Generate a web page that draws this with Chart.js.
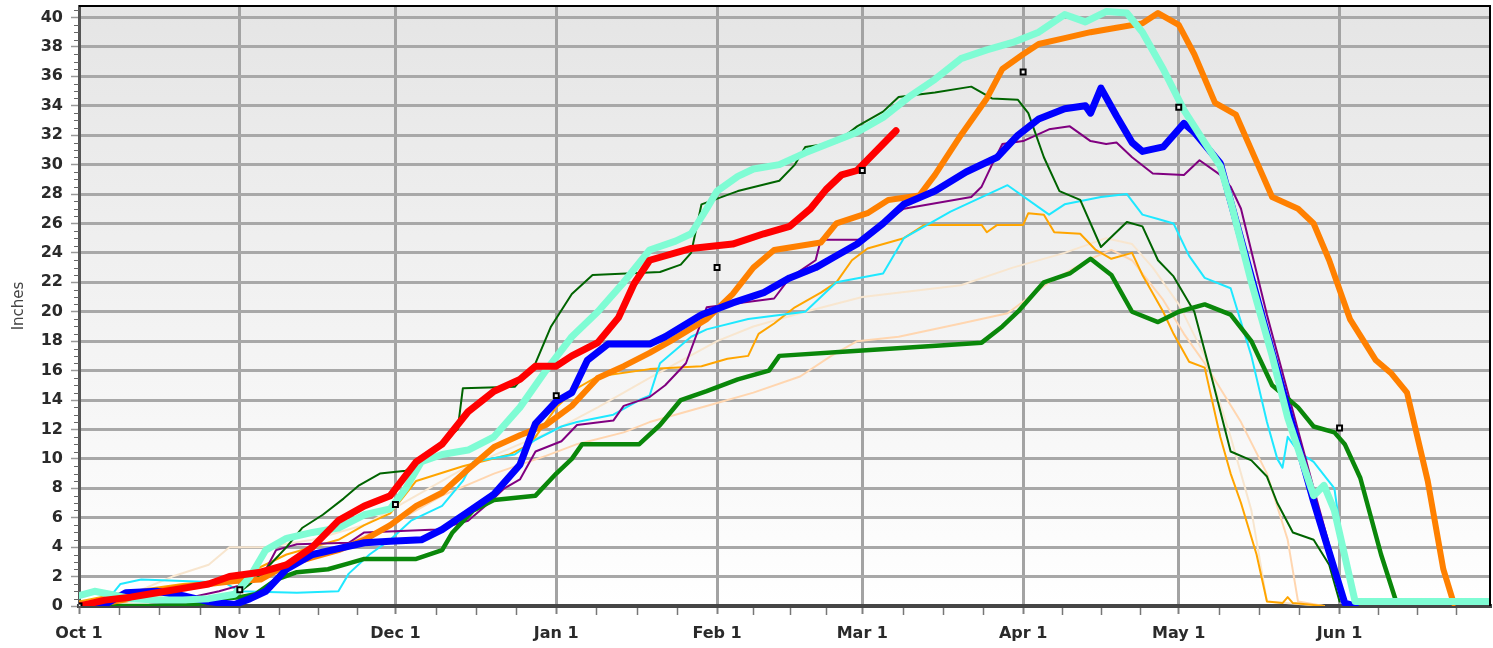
<!DOCTYPE html>
<html><head><meta charset="utf-8">
<script src="https://cdn.jsdelivr.net/npm/chart.js@4.4.1/dist/chart.umd.min.js"></script>
<style>html,body{margin:0;padding:0;background:#fff;overflow:hidden}#wrap{width:1493px;height:648px;position:relative}</style>
</head><body><div id="wrap"><canvas id="c" width="1493" height="648"></canvas></div>
<script>
// Day 0 = Oct 1
const monthDays = [0,31,61,92,123,151,182,212,243];
const monthLabels = ['Oct 1','Nov 1','Dec 1','Jan 1','Feb 1','Mar 1','Apr 1','May 1','Jun 1'];
const axisEndDay = 273; // Jul 1
const yTicks = [0,2,4,6,8,10,12,14,16,18,20,22,24,26,28,30,32,34,36,38,40];
const markerValues = [0,1.1,6.9,14.3,23.0,29.6,36.3,33.9,12.1];

const red = [[0,0],[5,0.4],[10,0.6],[15,0.9],[20,1.2],[25,1.5],[29,2.0],[35,2.3],[40,2.8],[45,4.0],[50,5.8],[55,6.8],[60,7.5],[65,9.8],[70,11.0],[75,13.2],[80,14.6],[85,15.4],[88,16.3],[92,16.3],[95,17.0],[100,17.9],[104,19.6],[107,21.9],[110,23.5],[118,24.3],[126,24.6],[132,25.3],[137,25.8],[141,27.0],[144,28.3],[147,29.3],[150,29.6],[155,31.4],[157.5,32.3]];
const blue = [[0,0],[5,0.1],[9,0.9],[15,1.0],[20,0.7],[25,0.3],[30,0.1],[33,0.5],[36,1.0],[40,2.5],[45,3.5],[50,3.9],[55,4.3],[60,4.4],[66,4.5],[70,5.2],[75,6.4],[80,7.6],[85,9.6],[88,12.4],[92,13.9],[95,14.5],[98,16.7],[102,17.8],[110,17.8],[113,18.3],[120,19.8],[126,20.6],[132,21.3],[137,22.3],[142,23.0],[146,23.8],[150,24.6],[155,26.0],[159,27.3],[165,28.2],[171,29.5],[177,30.5],[181,32.0],[185,33.1],[190,33.8],[194,34.0],[195,33.5],[197,35.2],[200,33.3],[203,31.5],[205,30.9],[209,31.2],[213,32.8],[215,32.2],[220,30.1],[222,27.5],[229,18.5],[238,7.1],[244,0.2],[246,0]];
const orangeThick = [[0,0.1],[5,0.2],[10,0.5],[15,1.0],[20,1.3],[25,1.5],[30,1.7],[35,1.8],[40,2.8],[45,3.3],[50,3.8],[55,4.5],[60,5.5],[65,6.8],[70,7.7],[75,9.3],[80,10.8],[85,11.6],[90,12.3],[95,13.6],[100,15.5],[105,16.3],[110,17.2],[114,18.0],[121,19.5],[126,21.2],[130,23.0],[134,24.2],[143,24.7],[146,26.0],[152,26.7],[156,27.6],[162,27.9],[165,29.3],[170,32.0],[175,34.5],[178,36.5],[182,37.5],[185,38.2],[190,38.6],[195,39.0],[200,39.3],[205,39.6],[208,40.3],[212,39.5],[215,37.5],[219,34.2],[223,33.4],[226,31.0],[230,27.8],[235,27.0],[238,26.0],[241,23.5],[245,19.5],[250,16.7],[253,15.8],[256,14.5],[260,8.5],[263,2.5],[265,0.2]];
const aquamarine = [[0,0.7],[3,1.0],[6,0.8],[10,0.5],[15,0.4],[20,0.4],[25,0.5],[30,0.8],[33,2.0],[36,3.8],[40,4.6],[45,5.0],[50,5.3],[55,6.2],[60,6.6],[63,8.0],[66,9.8],[70,10.3],[75,10.6],[80,11.5],[85,13.5],[90,16.0],[95,18.3],[100,20.0],[105,22.0],[110,24.2],[115,24.8],[118,25.3],[121,27.0],[123,28.2],[127,29.2],[130,29.7],[135,30.0],[140,30.8],[145,31.5],[150,32.2],[155,33.2],[160,34.6],[165,35.8],[170,37.2],[175,37.8],[180,38.3],[185,39.0],[190,40.2],[194,39.7],[198,40.4],[202,40.3],[205,39.0],[209,36.5],[213,33.7],[217,31.5],[220,29.9],[222,27.5],[226,22.0],[230,17.0],[233,12.8],[238,7.5],[240,8.2],[242,6.5],[246,0.3],[272,0.3]];
const green = [[0,0],[20,0],[24,0.2],[27,0.5],[31,0.6],[34,0.8],[38,1.8],[42,2.3],[48,2.5],[52,2.9],[55,3.2],[65,3.2],[70,3.8],[72,5.0],[76,6.5],[80,7.2],[88,7.5],[92,9.0],[95,10.0],[97,11.0],[108,11.0],[112,12.3],[116,14.0],[121,14.6],[127,15.4],[133,16.0],[135,17.0],[148,17.3],[166,17.7],[174,17.9],[178,19.0],[181,20.0],[186,22.0],[191,22.6],[195,23.6],[199,22.5],[203,20.0],[208,19.3],[212,20.0],[217,20.5],[222,19.8],[226,18.0],[230,15.0],[235,13.5],[238,12.2],[242,11.8],[244,11.0],[247,8.7],[251,3.5],[254,0.2]];
const darkGreen = [[0,0],[10,0],[20,0.2],[25,0.4],[30,0.7],[33,1.5],[36,2.5],[40,4.0],[43,5.3],[47,6.2],[51,7.3],[54,8.2],[58,9.0],[63,9.2],[66,10.0],[70,11.2],[73,12.0],[74,14.8],[84,14.9],[88,16.5],[91,19.0],[95,21.2],[99,22.5],[112,22.7],[116,23.2],[118,24.0],[120,27.3],[127,28.2],[135,28.9],[138,30.0],[140,31.2],[146,31.5],[150,32.6],[155,33.6],[158,34.6],[165,34.9],[172,35.3],[176,34.5],[181,34.4],[183,33.5],[186,30.5],[189,28.2],[193,27.6],[197,24.4],[202,26.1],[205,25.8],[208,23.5],[211,22.4],[215,20.0],[218,16.0],[222,10.5],[226,9.9],[229,8.8],[231,7.0],[234,5.0],[238,4.5],[241,2.8],[243,0.3]];
const purple = [[0,0],[10,0],[20,0.2],[23,0.7],[27,1.0],[31,1.4],[35,1.8],[38,3.8],[42,4.2],[52,4.3],[55,5.0],[69,5.2],[75,5.8],[79,7.0],[82,8.0],[85,8.6],[88,10.5],[93,11.2],[96,12.3],[103,12.6],[105,13.6],[110,14.2],[113,15.0],[117,16.5],[121,20.3],[134,20.9],[137,22.3],[142,23.5],[143,24.9],[151,24.9],[155,26.0],[159,27.0],[172,27.8],[174,28.5],[176,30.0],[178,31.4],[182,31.6],[187,32.4],[191,32.6],[195,31.6],[198,31.4],[200,31.5],[203,30.5],[207,29.4],[213,29.3],[216,30.3],[220,29.3],[222,28.5],[224,27.0],[229,19.8],[238,8.0],[244,0.3]];
const cyan = [[0,0.1],[5,0.2],[8,1.5],[12,1.8],[20,1.7],[28,1.6],[31,1.0],[42,0.9],[50,1.0],[52,2.2],[56,3.5],[60,4.5],[64,5.8],[70,6.8],[74,8.5],[76,9.8],[84,10.3],[88,11.3],[93,12.2],[96,12.5],[103,13.0],[108,14.0],[110,14.3],[112,16.5],[118,18.3],[121,18.8],[129,19.5],[140,20.0],[146,22.0],[155,22.6],[159,25.0],[168,26.8],[179,28.6],[187,26.6],[190,27.3],[197,27.8],[202,28.0],[205,26.6],[208,26.3],[211,26.0],[214,23.8],[217,22.3],[222,21.6],[226,17.0],[229,12.5],[231,10.0],[232,9.4],[233,11.5],[235,10.5],[238,9.8],[242,8.0],[244,3.0],[246,0.2]];
const orangeThin = [[0,0.3],[10,1.0],[20,1.5],[30,1.8],[40,3.5],[50,4.5],[55,5.5],[60,6.3],[65,8.5],[74,9.5],[83,10.3],[87,11.0],[92,13.5],[96,14.8],[100,15.6],[110,16.1],[120,16.3],[125,16.8],[129,17.0],[131,18.5],[134,19.2],[138,20.3],[143,21.3],[146,22.0],[149,23.5],[152,24.3],[159,25.0],[163,25.9],[174,25.9],[175,25.4],[177,25.9],[182,25.9],[183,26.7],[186,26.6],[188,25.4],[193,25.3],[196,24.2],[199,23.6],[203,24.0],[205,22.5],[209,20.0],[211,18.5],[214,16.6],[217,16.2],[220,11.5],[222,9.0],[224,7.0],[227,3.5],[229,0.3],[232,0.2],[233,0.6],[234,0.2],[240,0]];
const peach = [[0,0],[10,0.3],[20,1.0],[30,1.8],[40,3.0],[50,4.0],[60,5.5],[70,7.5],[80,9.0],[90,10.2],[96,11.0],[105,11.8],[110,12.5],[122,13.7],[130,14.5],[139,15.6],[145,17.0],[150,18.0],[158,18.3],[170,19.2],[179,19.9],[187,22.0],[195,23.6],[199,24.2],[203,23.5],[209,20.8],[213,18.5],[217,16.5],[224,12.5],[229,9.0],[233,4.5],[235,0.3],[240,0]];
const pale = [[0,0],[10,0.8],[18,2.0],[25,2.8],[29,4.0],[36,4.0],[45,4.5],[55,5.5],[65,7.5],[75,9.5],[85,11.0],[92,12.0],[100,13.5],[110,15.5],[123,18.0],[130,19.0],[140,20.0],[151,21.0],[170,21.8],[180,23.0],[190,24.0],[198,25.0],[203,24.6],[207,23.0],[212,20.5],[217,17.0],[222,11.5],[226,6.5],[229,0.3],[240,0]];

const toPts = arr => arr.map(p => ({x: p[0], y: p[1]}));
function series(data, color, width, order) {
  return {type:'line', data: toPts(data), borderColor: color, backgroundColor: color,
    borderWidth: width, pointRadius: 0, tension: 0, fill: false, order: order,
    borderJoinStyle: 'round', borderCapStyle: 'round'};
}
const markers = {
  type: 'line', showLine: false, order: 0,
  data: monthDays.map((d, i) => ({x: d, y: markerValues[i]})),
  pointStyle: 'rect', pointRadius: 3.5, borderWidth: 2,
  pointBorderColor: '#000', pointBackgroundColor: '#f2f2f2'
};

const decor = {
  id: 'decor',
  beforeDraw(chart) {
    const {ctx, chartArea: a} = chart;
    ctx.save();
    const g = ctx.createLinearGradient(0, a.top, 0, a.bottom);
    g.addColorStop(0, '#e5e5e5');
    g.addColorStop(1, '#ffffff');
    ctx.fillStyle = g;
    ctx.fillRect(a.left, a.top, a.right - a.left, a.bottom - a.top);
    ctx.restore();
  },
  afterDraw(chart) {
    const {ctx, chartArea: a, scales: {x, y}} = chart;
    ctx.save();
    ctx.strokeStyle = '#000'; ctx.lineWidth = 2;
    ctx.beginPath(); ctx.moveTo(a.left, a.top); ctx.lineTo(a.right, a.top); ctx.lineTo(a.right, a.bottom); ctx.stroke();
    ctx.strokeStyle = '#777'; ctx.lineWidth = 1.5;
    const bounds = monthDays.concat([axisEndDay]);
    for (let i = 0; i < bounds.length - 1; i++) {
      for (let k = 1; k < 4; k++) {
        const d = bounds[i] + (bounds[i + 1] - bounds[i]) * k / 4;
        if (d > x.max) continue;
        const px = Math.round(x.getPixelForValue(d)) + 0.5;
        ctx.beginPath(); ctx.moveTo(px, a.bottom + 2); ctx.lineTo(px, a.bottom + 9); ctx.stroke();
      }
    }
    ctx.strokeStyle = '#666'; ctx.lineWidth = 1;
    for (let v = 0.5; v < y.max; v += 0.5) {
      if (v % 2 === 0) continue;
      const py = Math.round(y.getPixelForValue(v)) + 0.5;
      ctx.beginPath(); ctx.moveTo(a.left - 5, py); ctx.lineTo(a.left, py); ctx.stroke();
    }
    ctx.restore();
  }
};

const tickFont = {family: 'DejaVu Sans', size: 16, weight: 'bold'};
new Chart(document.getElementById('c'), {
  data: {datasets: [
    markers,
    series(red, '#ff0000', 7, 1),
    series(aquamarine, '#7ffcd4', 7, 2),
    series(blue, '#0000ff', 7, 3),
    series(orangeThick, '#ff8000', 6, 4),
    series(green, '#0a870a', 4.5, 5),
    series(darkGreen, '#006400', 2, 6),
    series(purple, '#800080', 2, 7),
    series(cyan, '#1ee8ff', 2, 8),
    series(orangeThin, '#ffa500', 2, 9),
    series(peach, '#ffd6b0', 2, 10),
    series(pale, '#f8e6cf', 2, 11)
  ]},
  options: {
    responsive: false, animation: false,
    layout: {autoPadding: false, padding: {top: 6, right: 3, left: 0, bottom: 0}},
    plugins: {legend: {display: false}, tooltip: {enabled: false}},
    scales: {
      x: {
        type: 'linear', min: 0, max: axisEndDay - 1,
        afterBuildTicks: s => { s.ticks = monthDays.map(v => ({value: v})); },
        afterFit: s => { s.height = 42; s.paddingLeft = 0; s.paddingRight = 0; },
        ticks: {callback: (v, i) => monthLabels[i], font: tickFont, color: '#2a2a2a', maxRotation: 0, autoSkip: false, padding: 10},
        grid: {color: c => (c.tick && c.tick.value === 0) ? 'rgba(0,0,0,0)' : '#a3a3a3', lineWidth: 3, tickLength: 8, tickColor: '#808080', tickWidth: 2},
        border: {color: '#454545', width: 4}
      },
      y: {
        type: 'linear', min: 0, max: 40.78,
        afterBuildTicks: s => { s.ticks = yTicks.map(v => ({value: v})); },
        afterFit: s => { s.width = 79; s.paddingTop = 0; s.paddingBottom = 0; },
        ticks: {font: tickFont, color: '#2a2a2a', padding: 8},
        grid: {color: c => (c.tick && c.tick.value === 0) ? 'rgba(0,0,0,0)' : '#a8a8a8', lineWidth: 3, tickLength: 8, tickColor: '#999', tickWidth: 1.5},
        border: {color: '#555', width: 3},
        title: {display: true, text: 'Inches', font: {family: 'DejaVu Sans', size: 15}, color: '#444', padding: {top: 10, bottom: 0}}
      }
    }
  },
  plugins: [decor]
});
</script>
</body></html>
